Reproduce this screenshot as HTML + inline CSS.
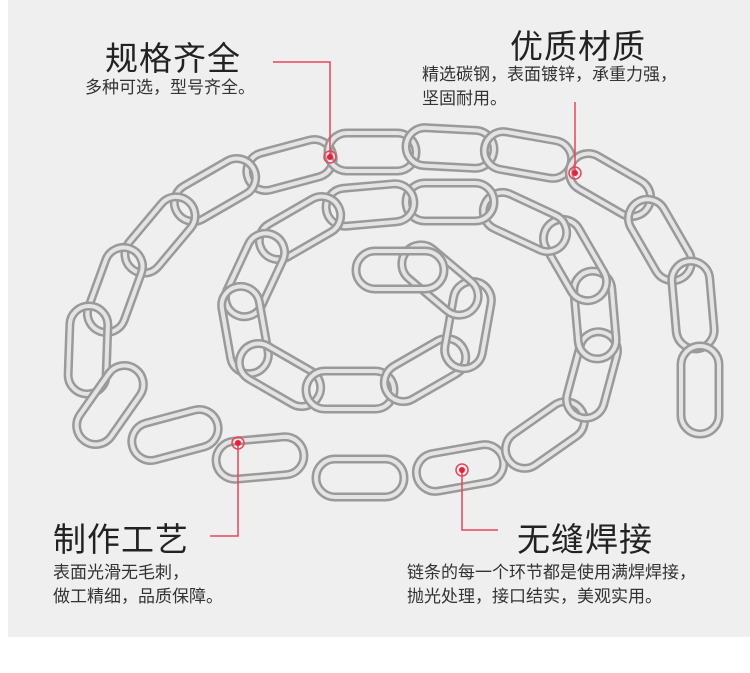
<!DOCTYPE html>
<html><head><meta charset="utf-8"><style>
html,body{margin:0;padding:0;background:#fff;}
#c{position:relative;width:750px;height:673px;overflow:hidden;background:#fff;font-family:"Liberation Sans","Noto Sans CJK SC",sans-serif;}
#bg{position:absolute;left:8px;top:0;width:742px;height:637px;background:#efefef;}
.t{position:absolute;color:#222;white-space:nowrap;}
.h{font-size:33px;letter-spacing:1px;}
.s{font-size:17px;color:#333;line-height:24px;}
</style></head><body><div id="c">
<div id="bg"></div>
<svg width="750" height="673" style="position:absolute;left:0;top:0">
<defs>
<g id="L"><rect x="-44" y="-19" width="88" height="38" rx="19" fill="none" stroke="#9a9a9a" stroke-width="9"/><rect x="-44" y="-19" width="88" height="38" rx="19" fill="none" stroke="#e4e4e4" stroke-width="4"/></g>
</defs>
<g>
<use href="#L" transform="translate(290,165) rotate(-15)"/>
<use href="#L" transform="translate(372,152) rotate(0)"/>
<use href="#L" transform="translate(450,148) rotate(3)"/>
<use href="#L" transform="translate(528,155) rotate(10)"/>
<use href="#L" transform="translate(610,185) rotate(30)"/>
<use href="#L" transform="translate(660,240) rotate(60)"/>
<use href="#L" transform="translate(693,305) rotate(85)"/>
<use href="#L" transform="translate(700,390) rotate(90)"/>
<use href="#L" transform="translate(215,190) rotate(-30)"/>
<use href="#L" transform="translate(160,235) rotate(-50)"/>
<use href="#L" transform="translate(115,290) rotate(-70)"/>
<use href="#L" transform="translate(88,350) rotate(-88)"/>
<use href="#L" transform="translate(110,405) rotate(-55)"/>
<use href="#L" transform="translate(175,435) rotate(-15)"/>
<use href="#L" transform="translate(260,458) rotate(-5)"/>
<use href="#L" transform="translate(360,478) rotate(0)"/>
<use href="#L" transform="translate(460,468) rotate(-10)"/>
<use href="#L" transform="translate(545,435) rotate(-35)"/>
<use href="#L" transform="translate(592,375) rotate(-75)"/>
<use href="#L" transform="translate(595,315) rotate(-95)"/>
<use href="#L" transform="translate(575,260) rotate(-120)"/>
<use href="#L" transform="translate(525,222) rotate(-155)"/>
<use href="#L" transform="translate(450,202) rotate(180)"/>
<use href="#L" transform="translate(370,205) rotate(175)"/>
<use href="#L" transform="translate(300,228) rotate(150)"/>
<use href="#L" transform="translate(255,275) rotate(115)"/>
<use href="#L" transform="translate(245,330) rotate(80)"/>
<use href="#L" transform="translate(280,375) rotate(30)"/>
<use href="#L" transform="translate(350,390) rotate(0)"/>
<use href="#L" transform="translate(425,370) rotate(-30)"/>
<use href="#L" transform="translate(468,325) rotate(-80)"/>
<use href="#L" transform="translate(440,280) rotate(-140)"/>
<use href="#L" transform="translate(400,270) rotate(0)"/>
</g>
<g fill="none" stroke="#e8455a" stroke-width="1.5">
<polyline points="273,62 330,62 330,157"/>
<polyline points="575,102 575,173"/>
<polyline points="238,443 238,536 210,536"/>
<polyline points="462,470 462,530 498,530"/>
<circle cx="330" cy="157" r="6"/><circle cx="575" cy="173" r="6"/>
<circle cx="238" cy="443" r="6"/><circle cx="462" cy="470" r="6"/>
</g>
<g fill="#e8203a"><circle cx="330" cy="157" r="3"/><circle cx="575" cy="173" r="3"/><circle cx="238" cy="443" r="3"/><circle cx="462" cy="470" r="3"/></g>
</svg>
<div class="t h" style="left:105px;top:32px">规格齐全</div>
<div class="t s" style="left:85px;top:76px">多种可选，型号齐全。</div>
<div class="t h" style="left:510px;top:20px">优质材质</div>
<div class="t s" style="left:422px;top:63px">精选碳钢，表面镀锌，承重力强，<br>坚固耐用。</div>
<div class="t h" style="left:53px;top:513px">制作工艺</div>
<div class="t s" style="left:53px;top:561px">表面光滑无毛刺，<br>做工精细，品质保障。</div>
<div class="t h" style="left:517px;top:513px">无缝焊接</div>
<div class="t s" style="left:407px;top:561px">链条的每一个环节都是使用满焊焊接，<br>抛光处理，接口结实，美观实用。</div>
</div></body></html>
